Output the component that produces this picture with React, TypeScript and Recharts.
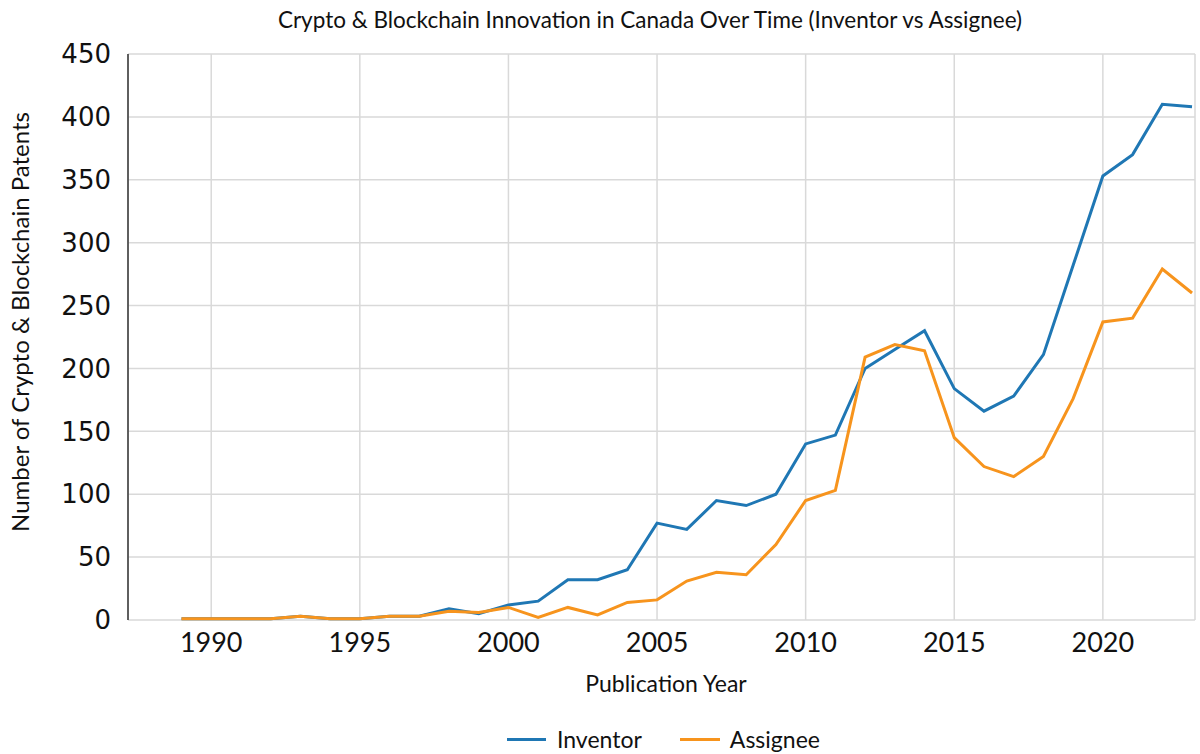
import React from 'react';
import { LineChart, Line, XAxis, YAxis, CartesianGrid } from 'recharts';

const years = [1989,1990,1991,1992,1993,1994,1995,1996,1997,1998,1999,2000,2001,2002,2003,2004,2005,2006,2007,2008,2009,2010,2011,2012,2013,2014,2015,2016,2017,2018,2019,2020,2021,2022,2023];
const inventor = [1,1,1,1,3,1,1,3,3,9,5,12,15,32,32,40,77,72,95,91,100,140,147,200,215,230,184,166,178,211,282,353,370,410,408];
const assignee = [1,1,1,1,3,1,1,3,3,7,6,10,2,10,4,14,16,31,38,36,60,95,103,209,219,214,145,122,114,130,176,237,240,279,260];
const xTicks = [1990,1995,2000,2005,2010,2015,2020];
const yTicks = [0,50,100,150,200,250,300,350,400,450];

const data = years.map((y, i) => ({ year: y, inventor: inventor[i], assignee: assignee[i] }));

const BLUE = '#1f77b4';
const ORANGE = '#f7941d';
const textFont = 'Lato, "Noto Sans", sans-serif';

export default function App() {
  return (
    <div style={{ position: 'absolute', left: 0, top: 0, width: 1200, height: 754, background: '#fff' }}>
      <LineChart width={1200} height={754} data={data} margin={{ top: 54, right: 5, bottom: 104, left: 0 }}>
        <CartesianGrid stroke="#d9d9d9" strokeWidth={1.5} />
        <XAxis
          dataKey="year"
          type="number"
          domain={[1987.2, 2023.1]}
          ticks={xTicks}
          allowDataOverflow
          height={30}
          axisLine={false}
          tickLine={false}
          tickSize={0}
          tickMargin={13}
          tick={{ fontSize: 27, fill: '#111', fontFamily: textFont }}
        />
        <YAxis
          type="number"
          domain={[0, 450]}
          ticks={yTicks}
          width={128}
          axisLine={{ stroke: '#333', strokeWidth: 1.5 }}
          tickLine={false}
          tickSize={0}
          tickMargin={17}
          tick={{ fontSize: 26, fill: '#111', fontFamily: '"DejaVu Sans", sans-serif' }}
        />
        <Line type="linear" dataKey="inventor" stroke={BLUE} strokeWidth={3} dot={false} isAnimationActive={false} />
        <Line type="linear" dataKey="assignee" stroke={ORANGE} strokeWidth={3} dot={false} isAnimationActive={false} />
      </LineChart>
      <div style={{ position: 'absolute', top: 9, left: 0, width: 1300, textAlign: 'center', fontFamily: textFont, fontSize: 22.5, lineHeight: 1, color: '#111', whiteSpace: 'nowrap' }}>
        Crypto &amp; Blockchain Innovation in Canada Over Time (Inventor vs Assignee)
      </div>
      <div style={{ position: 'absolute', top: 672, left: 0, width: 1332, textAlign: 'center', fontFamily: textFont, fontSize: 23, lineHeight: 1, color: '#111' }}>
        Publication Year
      </div>
      <div style={{ position: 'absolute', left: 20, top: 322, width: 0, height: 0 }}>
        <div style={{ position: 'absolute', transform: 'translate(-50%, -50%) rotate(-90deg)', whiteSpace: 'nowrap', fontFamily: textFont, fontSize: 24, lineHeight: 1, color: '#111' }}>
          Number of Crypto &amp; Blockchain Patents
        </div>
      </div>
      <div style={{ position: 'absolute', top: 728, left: 507, display: 'flex', alignItems: 'center', fontFamily: textFont, fontSize: 23, lineHeight: 1, color: '#111', whiteSpace: 'nowrap' }}>
        <span style={{ display: 'inline-block', width: 39, height: 3, background: BLUE, marginRight: 11 }} />
        <span style={{ marginRight: 38 }}>Inventor</span>
        <span style={{ display: 'inline-block', width: 40, height: 3, background: ORANGE, marginRight: 10 }} />
        <span>Assignee</span>
      </div>
    </div>
  );
}
